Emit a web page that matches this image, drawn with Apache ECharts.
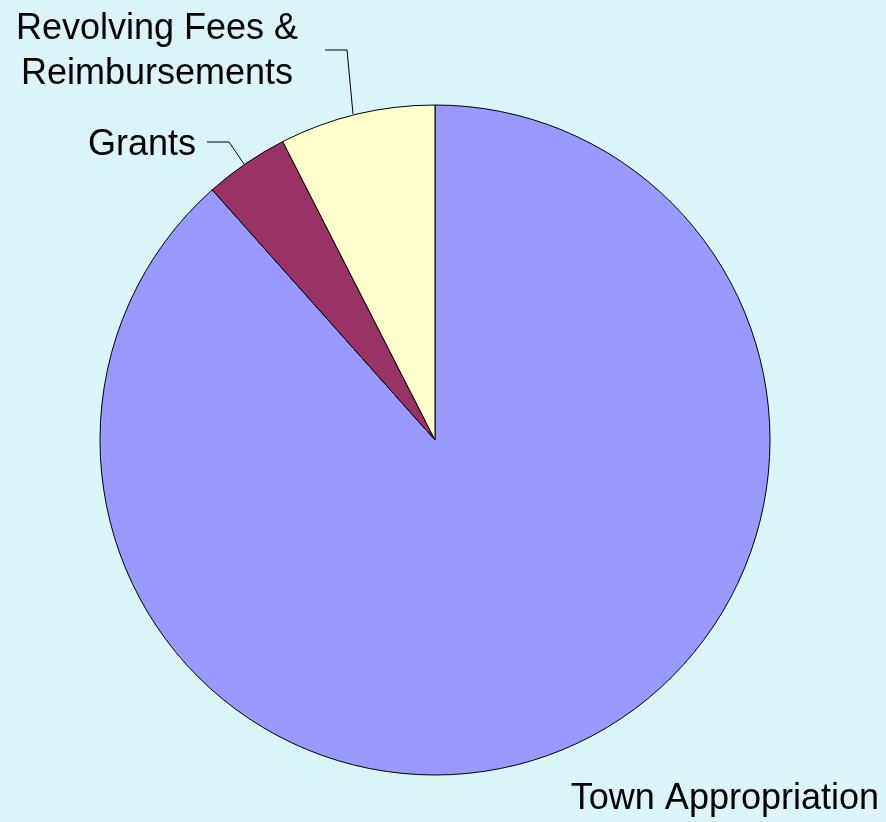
<!DOCTYPE html>
<html>
<head>
<meta charset="utf-8">
<script src="https://cdn.jsdelivr.net/npm/echarts@6/dist/echarts.min.js"></script>
<style>
html, body { margin: 0; padding: 0; background: #DAF4F8; }
#chart { width: 886px; height: 822px; }
</style>
</head>
<body>
<div id="chart"></div>
<script>
var categories = ['Town Appropriation', 'Grants', 'Revolving Fees &\nReimbursements'];
var values = [88.42, 4.07, 7.51];
var colors = ['#9999FF', '#993366', '#FFFFCC'];

// label placement (x = right edge of text, y = centre of text block)
var labelSpots = [
	{ x: 879, y: 799, points: null },
	{ x: 196, y: 145, points: [[207, 142], [229, 142], [244, 164]] },
	{ x: 298, y: 52, points: [[325, 50], [347, 50], [353, 114]], align: 'center', cx: 157 }
];

var chart = echarts.init(document.getElementById('chart'));

var data = [];
for (var i = 0; i < categories.length; i++) {
	data.push({
		name: categories[i],
		value: values[i],
		itemStyle: { color: colors[i] },
		labelLine: { show: i !== 0 }
	});
}

chart.setOption({
	backgroundColor: '#DAF4F8',
	animation: false,
	series: [{
		type: 'pie',
		center: [435, 440],
		radius: 335,
		startAngle: 90,
		clockwise: true,
		data: data,
		itemStyle: {
			borderColor: '#000',
			borderWidth: 1
		},
		label: {
			show: true,
			position: 'outside',
			formatter: '{b}',
			color: '#000',
			fontFamily: 'Liberation Sans, Arial, sans-serif',
			fontSize: 36,
			lineHeight: 45,
			overflow: 'none',
			width: 600
		},
		labelLine: {
			show: true,
			lineStyle: { color: '#000', width: 1 }
		},
		labelLayout: function(params) {
			var s = labelSpots[params.dataIndex];
			var out = {
				x: s.cx != null ? s.cx : s.x,
				y: s.y,
				align: s.align || 'right',
				verticalAlign: 'middle'
			};
			if (s.points) {
				out.labelLinePoints = s.points;
			}
			return out;
		}
	}]
});
</script>
</body>
</html>
